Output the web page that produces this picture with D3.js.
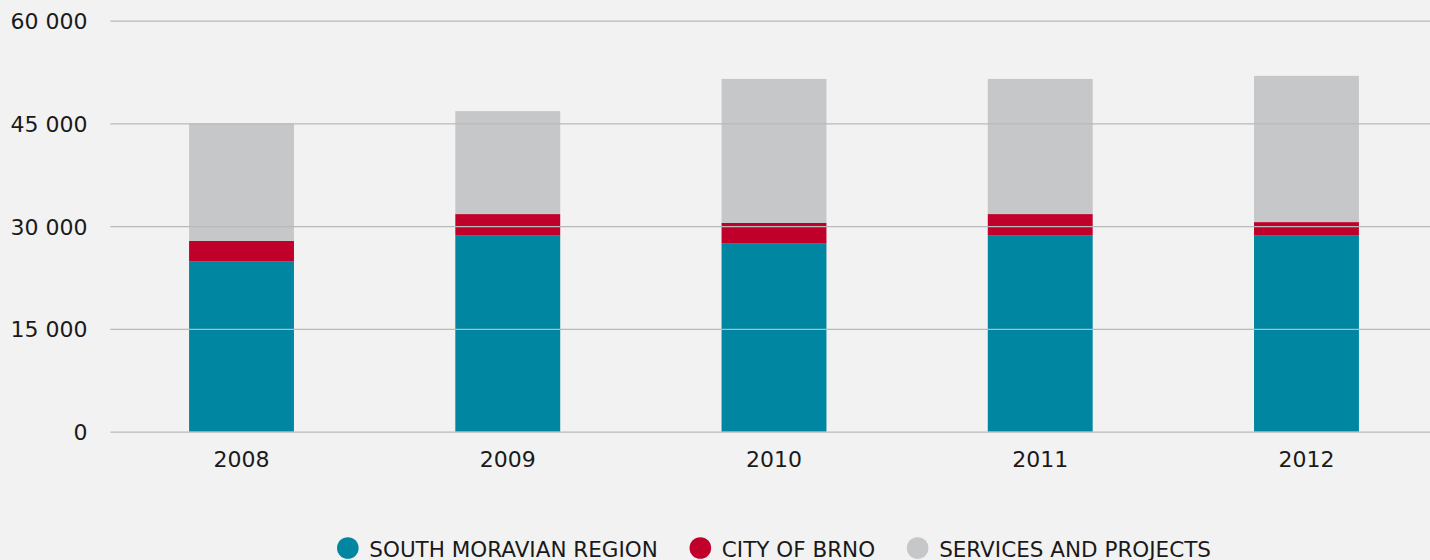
<!DOCTYPE html>
<html><head><meta charset="utf-8">
<script src="https://cdn.jsdelivr.net/npm/d3@7/dist/d3.min.js"></script>
<style>
html,body{margin:0;padding:0;background:#f2f2f2;}
svg{display:block;}
</style></head>
<body>
<svg id="chart" width="1430" height="560"></svg>
<script>
const years = ["2008","2009","2010","2011","2012"];
const southMoravian = [24900, 28700, 27450, 28700, 28700];
const cityOfBrno = [2950, 3070, 3020, 3070, 1900];
const servicesProjects = [17150, 15030, 21030, 19730, 21350];
const seriesNames = ["SOUTH MORAVIAN REGION", "CITY OF BRNO", "SERVICES AND PROJECTS"];
const seriesColors = ["#0086a1", "#c0002b", "#c6c7c9"];
const yTicks = [0, 15000, 30000, 45000, 60000];

const svg = d3.select("#chart");
const W = 1430, H = 560;
svg.append("rect").attr("width", W).attr("height", H).attr("fill", "#f2f2f2");

const gridLeft = 110.5, gridRight = 1430;
const x = d3.scaleBand().domain(years).range([108.4, 1439.6]).paddingInner(0.606).paddingOuter(0.303);
const y = d3.scaleLinear().domain([0, 60000]).range([431.7, 20.7]);

const rows = years.map((yr, i) => ({year: yr, s0: southMoravian[i], s1: cityOfBrno[i], s2: servicesProjects[i]}));
const stack = d3.stack().keys(["s0","s1","s2"]);
const stacked = stack(rows);

const gBars = svg.append("g");
stacked.forEach((layer, li) => {
  gBars.selectAll(null).data(layer).enter().append("rect")
    .attr("x", d => x(d.data.year))
    .attr("width", x.bandwidth())
    .attr("y", d => y(d[1]))
    .attr("height", d => y(d[0]) - y(d[1]))
    .attr("fill", seriesColors[li]);
});

// gridlines on top
const yAxis = d3.axisLeft(y).tickValues(yTicks).tickSize(-(gridRight - gridLeft)).tickPadding(23)
  .tickFormat(d => d3.format(",")(d).replace(/,/g, "\u00a0"));
const gy = svg.append("g").attr("transform", `translate(${gridLeft},0)`).call(yAxis);
gy.select(".domain").remove();
gy.selectAll(".tick line").attr("stroke", "#b9b9b9").attr("stroke-width", 1.3);
gy.selectAll(".tick text").attr("fill", "#1a1a1a").attr("font-family", "DejaVu Sans").attr("font-size", 22).attr("dy", "0.36em");

const xAxis = d3.axisBottom(x).tickSize(0).tickPadding(20);
const gx = svg.append("g").attr("transform", `translate(0,${y(0)})`).call(xAxis);
gx.select(".domain").remove();
gx.selectAll(".tick text").attr("fill", "#1a1a1a").attr("font-family", "DejaVu Sans").attr("font-size", 22);

// legend
const legend = svg.append("g");
const items = legend.selectAll("g").data(seriesNames).enter().append("g");
const r = 10.8, circleToText = 21.5, textToNext = 42.5;
items.append("circle").attr("r", r).attr("cy", 548).attr("fill", (d, i) => seriesColors[i]);
items.append("text").text(d => d).attr("y", 556.5).attr("font-family", "DejaVu Sans").attr("font-size", 21.5).attr("fill", "#1a1a1a");
const widths = [];
items.select("text").each(function(){ widths.push(this.getComputedTextLength()); });
let total = r;
widths.forEach((w, i) => { total += circleToText + w + (i < widths.length - 1 ? textToNext : 0); });
let cx = (x(years[0]) + x(years[years.length-1]) + x.bandwidth()) / 2 - total / 2 + r;
items.each(function(d, i){
  const g = d3.select(this);
  g.select("circle").attr("cx", cx);
  g.select("text").attr("x", cx + circleToText);
  cx += circleToText + widths[i] + textToNext;
});
</script>
</body></html>
